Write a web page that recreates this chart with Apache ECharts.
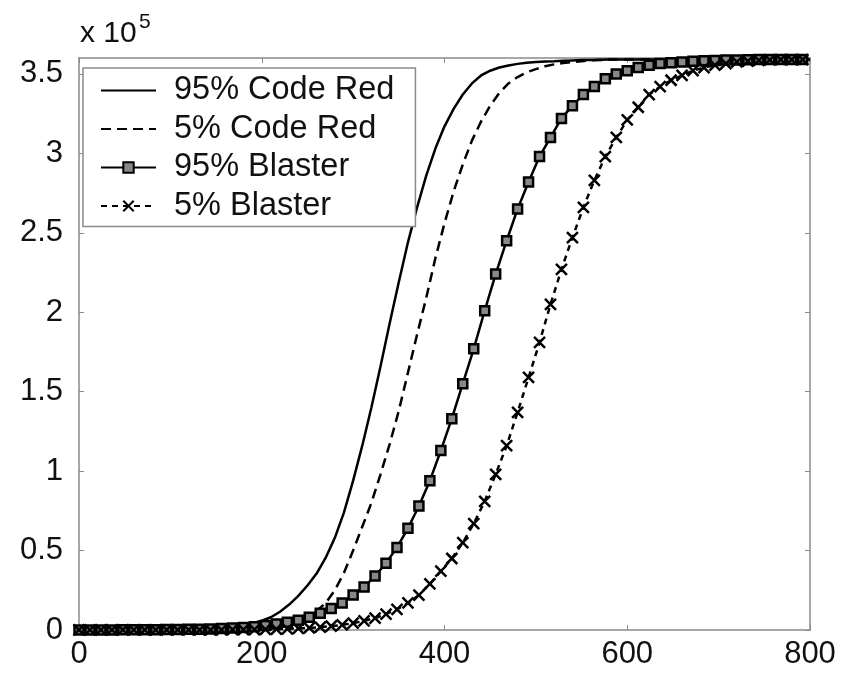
<!DOCTYPE html>
<html>
<head>
<meta charset="utf-8">
<script src="https://cdn.jsdelivr.net/npm/echarts@6/dist/echarts.min.js"></script>
<style>
  html, body { margin: 0; padding: 0; background: #fff; }
  #chart { width: 844px; height: 677px; }
</style>
</head>
<body>
<div id="chart"></div>
<script>
// 图例名称
var seriesNames = ['95% Code Red', '5% Code Red', '95% Blaster', '5% Blaster']

// Code Red 曲线的横坐标（时间），陡峭段取点更密
var crT = [0, 20, 40, 60, 80, 100, 120, 140, 160,
  170, 180, 190, 200, 210, 220, 230, 240, 250, 260, 270, 280, 290, 300, 310, 320, 330, 340, 350, 360,
  370, 380, 390, 400, 410, 420, 430, 440, 450, 460, 470, 480, 490, 500, 510, 520, 530, 540, 550, 560,
  580, 600, 620, 640, 660, 680, 700, 720, 740, 760, 780, 800]
// 感染主机数 (x 10^5)
var cr95 = [0, 0.0002, 0.0003, 0.0005, 0.0008, 0.002, 0.004, 0.007, 0.014,
  0.02, 0.03, 0.042, 0.058, 0.08, 0.115, 0.16, 0.215, 0.28, 0.355, 0.455, 0.58, 0.74, 0.94, 1.16, 1.40,
  1.66, 1.93, 2.19, 2.44, 2.66, 2.86, 3.03, 3.17, 3.28, 3.37, 3.44, 3.49, 3.52, 3.54, 3.553, 3.563, 3.57,
  3.575, 3.578, 3.58, 3.583, 3.585, 3.587, 3.588,
  3.59, 3.59, 3.59, 3.59, 3.59, 3.59, 3.59, 3.59, 3.59, 3.59, 3.59, 3.59]
var cr5 = [0, 0.0001, 0.0002, 0.0003, 0.0005, 0.001, 0.0018, 0.003, 0.0045,
  0.006, 0.008, 0.011, 0.016, 0.022, 0.031, 0.043, 0.06, 0.085, 0.12, 0.17, 0.25, 0.36, 0.50, 0.65, 0.80,
  0.98, 1.17, 1.38, 1.62, 1.86, 2.09, 2.34, 2.56, 2.76, 2.93, 3.08, 3.20, 3.30, 3.38, 3.44, 3.48, 3.51,
  3.53, 3.548, 3.56, 3.568, 3.575, 3.58, 3.585,
  3.59, 3.59, 3.59, 3.59, 3.59, 3.59, 3.59, 3.59, 3.59, 3.59, 3.59, 3.59]

// Blaster 曲线的横坐标（带标记点）
var blT = [0, 12, 24, 36, 48, 60, 72, 84, 96, 108, 120, 132, 144, 156, 168, 180, 192, 204, 216, 228, 240,
  252, 264, 276, 288, 300, 312, 324, 336, 348, 360, 372, 384, 396, 408, 420, 432, 444, 456, 468, 480, 492,
  504, 516, 528, 540, 552, 564, 576, 588, 600, 612, 624, 636, 648, 660, 672, 684, 696, 708, 720, 732, 744,
  756, 768, 780, 792]
var bl95 = [0.0003, 0.0004, 0.0005, 0.0007, 0.0009, 0.0011, 0.0015, 0.0019, 0.0025, 0.003, 0.004, 0.005,
  0.007, 0.009, 0.012, 0.016, 0.021, 0.028, 0.037, 0.048, 0.062, 0.08, 0.105, 0.135, 0.17, 0.22, 0.27, 0.34,
  0.42, 0.52, 0.64, 0.78, 0.94, 1.13, 1.33, 1.55, 1.77, 2.01, 2.24, 2.45, 2.65, 2.82, 2.98, 3.10, 3.22, 3.30,
  3.37, 3.42, 3.47, 3.50, 3.52, 3.54, 3.555, 3.565, 3.57, 3.575, 3.58, 3.582, 3.585, 3.587, 3.588, 3.589,
  3.59, 3.59, 3.59, 3.59, 3.59]
var bl5 = [0.0001, 0.0001, 0.0001, 0.0002, 0.0002, 0.0003, 0.0003, 0.0004, 0.0005, 0.0006, 0.0008, 0.001,
  0.0012, 0.0015, 0.0019, 0.0025, 0.003, 0.004, 0.0055, 0.0075, 0.010, 0.013, 0.018, 0.024, 0.032, 0.043,
  0.057, 0.075, 0.10, 0.13, 0.17, 0.22, 0.29, 0.37, 0.45, 0.55, 0.67, 0.81, 0.98, 1.16, 1.37, 1.59, 1.81,
  2.05, 2.27, 2.47, 2.66, 2.83, 2.98, 3.10, 3.21, 3.29, 3.37, 3.42, 3.46, 3.49, 3.52, 3.54, 3.555, 3.565,
  3.575, 3.58, 3.585, 3.588, 3.59, 3.59, 3.59]

// 坐标轴刻度
var xTicks = { min: 0, max: 800, interval: 200 }
var yTicks = { min: 0, max: 3.6, interval: 0.5 }

function pairs(xs, ys) {
    var out = []
    for (var i = 0; i < xs.length; i++) {
        out.push([xs[i], ys[i]])
    }
    return out
}

var chart = echarts.init(document.getElementById('chart'))

var font = "'Liberation Sans', Arial, sans-serif"
var axisGray = '#8a8a8a'

function makeAxis(base, pos, showLabel) {
    return {
        type: 'value',
        position: pos,
        min: base.min,
        max: base.max,
        interval: base.interval,
        splitLine: { show: false },
        axisLine: { show: true, onZero: false, lineStyle: { color: axisGray, width: 1.5 } },
        axisTick: { show: true, inside: true, length: 5, lineStyle: { color: axisGray } },
        axisLabel: {
            show: showLabel,
            color: '#111',
            fontSize: 31,
            fontFamily: font,
            showMaxLabel: pos === 'bottom' ? true : false,
            margin: pos === 'bottom' ? 9 : 16
        }
    }
}

// 不带标记的曲线，图例里也不画点
var noMark = { color: 'rgba(0,0,0,0)', borderWidth: 0, opacity: 0 }

var option = {
    animation: false,
    backgroundColor: '#fff',
    grid: { left: 79, right: 34, top: 58, bottom: 47, containLabel: false },
    xAxis: [makeAxis(xTicks, 'bottom', true), makeAxis(xTicks, 'top', false)],
    yAxis: [makeAxis(yTicks, 'left', true), makeAxis(yTicks, 'right', false)],

    // 图例（左上角方框）
    legend: {
        orient: 'vertical',
        left: 83,
        top: 68,
        backgroundColor: '#fff',
        borderColor: axisGray,
        borderWidth: 1.5,
        borderRadius: 0,
        padding: [6, 21, 4, 17],
        itemWidth: 55,
        itemHeight: 13,
        itemGap: 5.5,
        textStyle: { fontSize: 32.5, lineHeight: 32, fontFamily: font, color: '#111', padding: [0, 0, 0, 13] },
        data: [
            { name: seriesNames[0], itemStyle: noMark },
            { name: seriesNames[1], itemStyle: noMark },
            { name: seriesNames[2] },
            { name: seriesNames[3] }
        ]
    },

    // x 10^5 标注
    graphic: [
        {
            type: 'text', left: 80, top: 19,
            style: { text: 'x 10', font: '30px ' + font, fill: '#111' }
        },
        {
            type: 'text', left: 139, top: 12,
            style: { text: '5', font: '21px ' + font, fill: '#111' }
        }
    ],

    series: [
        {
            name: seriesNames[0],
            type: 'line',
            data: pairs(crT, cr95),
            symbol: 'none',
            lineStyle: { color: '#000', width: 2.5 },
            itemStyle: { color: '#000' }
        },
        {
            name: seriesNames[1],
            type: 'line',
            data: pairs(crT, cr5),
            symbol: 'none',
            lineStyle: { color: '#000', width: 2.5, type: [10, 6] },
            itemStyle: { color: '#000' }
        },
        {
            name: seriesNames[2],
            type: 'line',
            data: pairs(blT, bl95),
            symbol: 'rect',
            symbolSize: 9,
            showAllSymbol: true,
            lineStyle: { color: '#000', width: 2.5 },
            itemStyle: { color: '#888', borderColor: '#000', borderWidth: 2.5 }
        },
        {
            name: seriesNames[3],
            type: 'line',
            data: pairs(blT, bl5),
            symbol: 'path://M0,0L10,10M0,10L10,0',
            symbolSize: 11,
            showAllSymbol: true,
            lineStyle: { color: '#000', width: 2.5, type: [6, 5] },
            itemStyle: { color: '#000', borderColor: '#000', borderWidth: 2.5 }
        }
    ]
}

chart.setOption(option)
window.addEventListener('resize', chart.resize)
</script>
</body>
</html>
